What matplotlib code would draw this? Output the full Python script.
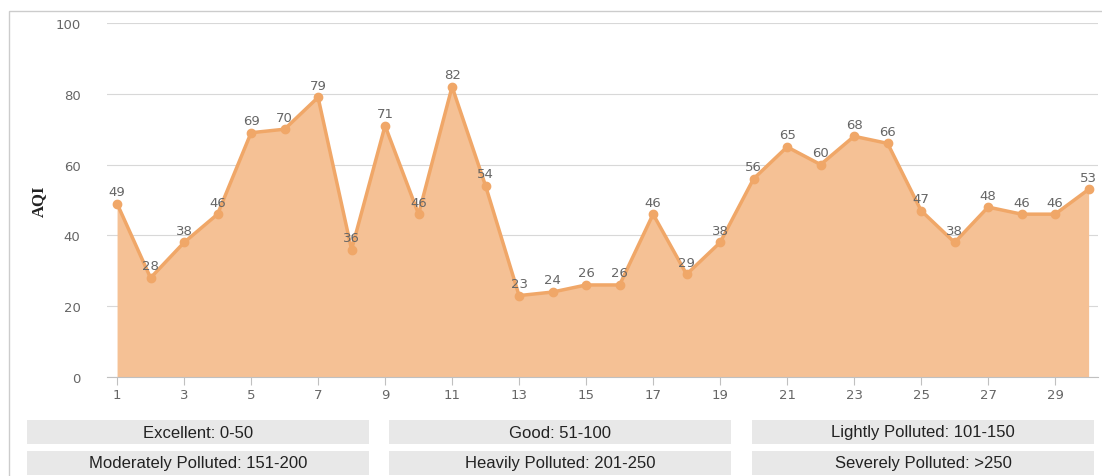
import numpy as np
import matplotlib.pyplot as plt
from matplotlib.patches import Rectangle

# daily AQI values, days 1..30
days = list(range(1, 31))
aqi = [49, 28, 38, 46, 69, 70, 79, 36, 71, 46, 82, 54, 23, 24, 26, 26,
       46, 29, 38, 56, 65, 60, 68, 66, 47, 38, 48, 46, 46, 53]
yticks = [0, 20, 40, 60, 80, 100]
xticks = list(range(1, 31, 2))
legend_labels = ["Excellent: 0-50", "Good: 51-100", "Lightly Polluted: 101-150",
                 "Moderately Polluted: 151-200", "Heavily Polluted: 201-250",
                 "Severely Polluted: >250"]

W, H = 1102, 477
fig = plt.figure(figsize=(W / 100, H / 100), dpi=100)

# outer frame (left and top edges visible)
fig.patches.append(Rectangle((9 / W, -0.1), 1.2, 1 - 12 / H + 0.1,
                             transform=fig.transFigure, fill=False,
                             edgecolor="#cccccc", lw=1))

ax = fig.add_axes([107 / W, 1 - 378 / H, (1098 - 107) / W, (378 - 24) / H])
ax.set_xlim(0.7, 30.28)
ax.set_ylim(0, 100)

ax.fill_between(days, aqi, 0, color="#f5c195", lw=0, zorder=2)
ax.plot(days, aqi, color="#f0a768", lw=2.5, marker="o", ms=6, zorder=3)
for d, v in zip(days, aqi):
    ax.annotate(str(v), (d, v), xytext=(0, 4), textcoords="offset points",
                ha="center", va="bottom", fontsize=9.5, color="#666666", zorder=4)

ax.set_yticks(yticks)
ax.set_xticks(xticks)
ax.grid(axis="y", color="#d8d8d8", lw=0.8, zorder=0)
for s in ["top", "right", "left"]:
    ax.spines[s].set_visible(False)
ax.spines["bottom"].set_color("#c0c0c0")
ax.tick_params(axis="y", length=0, pad=19, labelsize=9.5, labelcolor="#666666")
ax.tick_params(axis="x", length=6, color="#c0c0c0", labelsize=9.5,
               labelcolor="#666666", pad=2)
ax.set_ylabel("AQI", fontsize=12, fontweight="bold", family="Liberation Serif",
              labelpad=6, color="#222222")

# legend boxes below the chart
box_x = [27, 389, 752]
box_w = 342
box_y = [421, 452]
box_h = 24
for i, lab in enumerate(legend_labels):
    r, c = divmod(i, 3)
    x0 = box_x[c] / W
    y0 = 1 - (box_y[r] + box_h) / H
    fig.patches.append(Rectangle((x0, y0), box_w / W, box_h / H,
                                 transform=fig.transFigure, color="#e8e8e8", lw=0))
    fig.text(x0 + box_w / W / 2, y0 + box_h / H / 2, lab, ha="center", va="center",
             fontsize=12, family="Liberation Sans", color="#222222")

fig.savefig("out.png", dpi=100)
